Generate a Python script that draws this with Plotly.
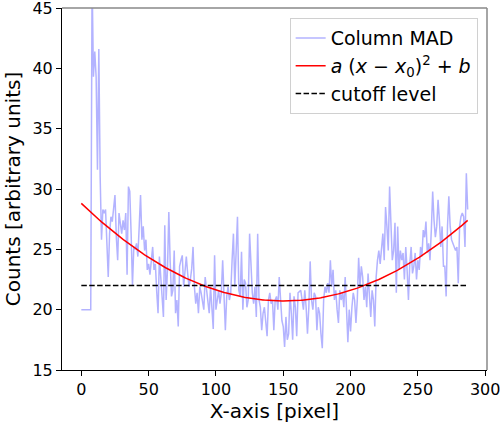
import plotly.graph_objects as go

# Column MAD values, one per pixel column (0..287)
mad_values = [
    20.0, 20.0, 20.0, 20.0, 20.0, 20.0, 20.0, 20.0, 47.5, 39.3,
    41.4, 39.3, 31.6, 41.6, 31.0, 25.8, 28.3, 28.0, 28.3, 25.5,
    22.7, 26.3, 27.7, 27.3, 28.7, 29.5, 26.0, 24.1, 28.0, 27.2,
    26.3, 27.4, 26.6, 28.0, 22.9, 30.2, 29.8, 26.3, 22.0, 25.2,
    25.0, 25.5, 24.4, 26.9, 29.5, 25.8, 26.9, 24.9, 25.8, 23.3,
    23.8, 22.9, 23.8, 25.2, 23.3, 23.8, 21.5, 19.7, 24.4, 22.7,
    20.2, 19.4, 27.0, 20.8, 23.3, 28.1, 24.0, 21.1, 21.6, 24.9,
    19.7, 20.8, 18.6, 23.6, 24.1, 24.5, 21.9, 23.0, 24.4, 23.0,
    21.9, 22.5, 23.4, 25.2, 21.9, 20.5, 21.4, 19.7, 21.9, 21.4,
    20.8, 20.0, 22.7, 21.6, 20.8, 19.7, 21.9, 20.2, 18.4, 24.5,
    20.0, 20.8, 21.6, 20.5, 21.4, 24.1, 20.2, 18.3, 21.1, 21.9,
    20.8, 21.4, 24.1, 26.3, 21.9, 24.8, 27.7, 21.6, 21.1, 24.8,
    20.0, 22.5, 22.2, 20.2, 20.8, 26.3, 24.1, 21.4, 20.5, 21.9,
    19.4, 26.3, 20.8, 20.2, 18.3, 19.7, 20.2, 19.1, 17.8, 20.8,
    21.4, 20.5, 20.8, 18.3, 20.8, 21.1, 20.0, 22.7, 20.5, 19.1,
    18.6, 16.9, 19.4, 17.5, 18.0, 21.4, 19.7, 17.5, 21.1, 20.2,
    17.8, 21.4, 21.5, 21.6, 20.8, 20.0, 21.6, 20.2, 18.0, 20.2,
    24.0, 20.8, 20.0, 21.4, 21.1, 18.3, 20.2, 19.7, 18.0, 16.8,
    20.8, 21.9, 21.4, 22.2, 21.4, 24.1, 21.9, 23.3, 20.8, 21.6,
    20.0, 18.9, 21.6, 20.8, 21.4, 20.2, 22.7, 20.2, 17.3, 20.0,
    18.2, 20.2, 21.4, 20.8, 18.9, 20.8, 24.3, 21.9, 23.6, 22.7,
    20.8, 21.9, 20.2, 23.0, 21.4, 19.4, 21.6, 20.8, 18.6, 22.7,
    24.1, 24.9, 23.8, 25.5, 26.3, 24.1, 28.5, 26.9, 24.9, 30.2,
    26.9, 24.1, 24.9, 27.2, 21.4, 26.9, 23.3, 24.9, 24.1, 24.7,
    22.5, 25.2, 23.3, 20.8, 23.8, 25.2, 23.0, 23.6, 24.7, 22.5,
    24.1, 23.3, 25.2, 24.4, 26.6, 26.0, 27.3, 24.7, 25.5, 24.1,
    26.6, 29.8, 27.4, 26.0, 26.9, 29.1, 27.4, 25.2, 26.9, 23.6,
    23.6, 21.1, 26.9, 29.4, 26.9, 25.8, 25.5, 25.2, 24.9, 25.2,
    22.2, 26.9, 27.7, 28.0, 27.7, 25.2, 31.3, 28.3,
]
columns = list(range(len(mad_values)))

# Fitted parabola parameters a (x - x0)^2 + b
fit_a = 0.0003577
fit_x0 = 150.4
fit_b = 20.72
fit_curve = [fit_a * (c - fit_x0) ** 2 + fit_b for c in columns]

cutoff_level = 22.0

x_ticks = [0, 50, 100, 150, 200, 250, 300]
y_ticks = [15, 20, 25, 30, 35, 40, 45]

fig = go.Figure()
fig.add_trace(go.Scatter(
    x=columns, y=mad_values, mode="lines", name="Column MAD",
    line=dict(color="rgb(179,179,255)", width=1.5),
))
fig.add_trace(go.Scatter(
    x=columns, y=fit_curve, mode="lines",
    name="<i>a</i> (<i>x</i> − <i>x</i><sub>0</sub>)<sup>2</sup> + <i>b</i>",
    line=dict(color="red", width=1.5),
))
fig.add_trace(go.Scatter(
    x=[columns[0], columns[-1]], y=[cutoff_level, cutoff_level], mode="lines",
    name="cutoff level",
    line=dict(color="black", width=1.5, dash="5.5px,2.4px"),
))

font_family = "DejaVu Sans, Liberation Sans, sans-serif"
fig.update_layout(
    width=503, height=426,
    margin=dict(l=62, r=16, t=8, b=56, autoexpand=False),
    paper_bgcolor="white", plot_bgcolor="white",
    font=dict(family=font_family, color="black", size=16),
    showlegend=True,
    legend=dict(
        x=0.978, y=0.972, xanchor="right", yanchor="top",
        bgcolor="rgba(255,255,255,0.8)", bordercolor="#d0d0d0", borderwidth=1,
        font=dict(size=19, family=font_family), tracegroupgap=0,
    ),
    xaxis=dict(
        range=[-14.35, 301.35], tickvals=x_ticks, ticktext=[str(v) for v in x_ticks],
        showgrid=False, zeroline=False, showline=True, linecolor="black", linewidth=1,
        ticks="outside", ticklen=5, tickwidth=1, tickcolor="black",
        tickfont=dict(size=16), automargin=False,
        title=dict(text="X-axis [pixel]", font=dict(size=20), standoff=4),
    ),
    yaxis=dict(
        range=[15, 45], tickmode="array", tickvals=y_ticks, ticktext=[str(v) for v in y_ticks],
        showgrid=False, zeroline=False, showline=True, linecolor="black", linewidth=1,
        ticks="outside", ticklen=5, tickwidth=1, tickcolor="black",
        tickfont=dict(size=16), automargin=False, ticklabeloverflow="allow",
        title=dict(text="Counts [arbitrary units]", font=dict(size=20), standoff=6),
    ),
    shapes=[
        dict(type="line", xref="paper", yref="paper", x0=0, x1=1, y0=1, y1=1,
             line=dict(color="#888888", width=1.5)),
        dict(type="line", xref="paper", yref="paper", x0=1, x1=1, y0=0, y1=1,
             line=dict(color="#888888", width=1.5)),
    ],
)

fig.write_html("out.html")
